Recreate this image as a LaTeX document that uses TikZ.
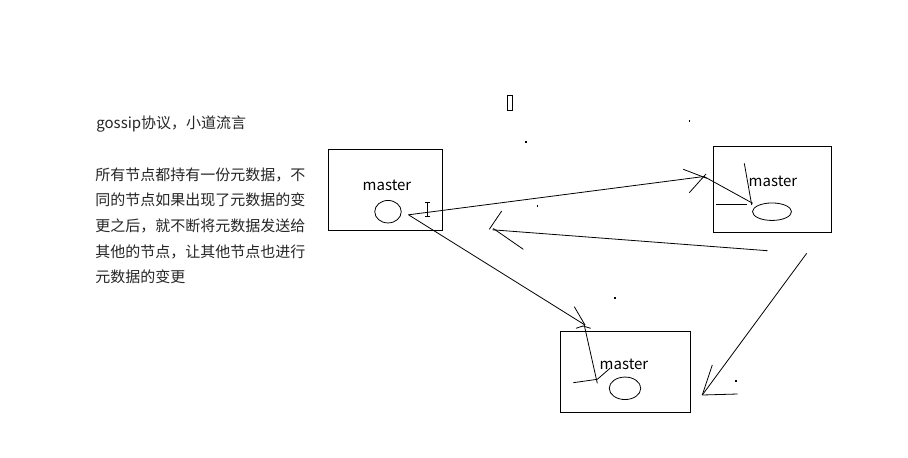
\documentclass[tikz,border=0pt]{standalone}
\usepackage{fontspec}
\setmainfont{Noto Sans CJK SC}
\usetikzlibrary{shapes.geometric}
\begin{document}
\begin{tikzpicture}[x=1pt,y=-1pt,line width=0.8pt]
\useasboundingbox[fill=white] (0,0) rectangle (908,458);
\tikzset{
  box/.style={draw, anchor=north west, inner sep=0pt},
  oval/.style={draw, ellipse, inner sep=0pt},
  lbl/.style={anchor=base, inner sep=0pt, font=\fontsize{15pt}{15pt}\selectfont},
  txt/.style={anchor=base west, inner sep=0pt, text=black!85, font=\fontsize{15pt}{15pt}\selectfont},
  speck/.style={fill=black, minimum size=1.6pt, inner sep=0pt}
}
% left text
\node[txt] (t0) at (96,128.4) {gossip协议，小道流言};
\node[txt] (t1) at (95,180.7) {所有节点都持有一份元数据，不};
\node[txt] (t2) at (95,205.9) {同的节点如果出现了元数据的变};
\node[txt] (t3) at (95,231.6) {更之后，就不断将元数据发送给};
\node[txt] (t4) at (95,257.0) {其他的节点，让其他节点也进行};
\node[txt] (t5) at (95,282.2) {元数据的变更};

% boxes
\node[box, minimum width=114pt, minimum height=81pt] (b1) at (328,149) {};
\node[box, minimum width=118pt, minimum height=86pt] (b2) at (713,145.5) {};
\node[box, minimum width=130pt, minimum height=81pt] (b3) at (559.5,331) {};

% labels
\node[lbl] (m1) at (387,190) {master};
\node[lbl] (m2) at (773,186.7) {master};
\node[lbl] (m3) at (624,369) {master};

% ovals
\node[oval, minimum width=26.5pt, minimum height=22.5pt] (e1) at (388,211.7) {};
\node[oval, minimum width=39pt, minimum height=17.5pt] (e2) at (772,211.7) {};
\node[oval, minimum width=31.5pt, minimum height=22.5pt] (e3) at (625,388.3) {};

% free ends
\coordinate (s1) at (408.5,214.8);
\coordinate (a1) at (704,176.5);
\coordinate (a3) at (585,325);
\coordinate (r0) at (767.5,250.7);
\coordinate (r1) at (492.5,229.8);
\coordinate (d0) at (806.7,253.3);
\coordinate (d1) at (702.3,395);

% arrow 1 : box1 -> box2
\draw (s1) -- (a1);
\draw (683.3,169.3) -- (706.7,178.3);
\draw (689.3,192.7) -- (706,174);
\draw (a1) -- (752.7,203.3);
\draw (744.3,163.3) -- (751.7,205);
\draw (716,204) -- (746.7,204);

% arrow 2 : box2 -> box1
\draw (r0) -- (r1);
\draw (501.7,211) -- (489.3,229.3);
\draw (493.3,228.5) -- (523.3,249.3);

% arrow 3 : box1 -> box3
\draw (s1) -- (a3);
\draw (574.3,306.7) -- (a3);
\draw (576,328.3) -- (583,326) -- (590.7,328.3);
\draw (584,324) -- (597.3,383.3);
\draw (573.3,382.7) -- (597.3,379.3) -- (610,368.3);

% arrow 4 : box2 -> box3 region
\draw (d0) -- (d1);
\draw (712.3,365) -- (d1);
\draw (d1) -- (737.7,394);

% cursor and glyph box
\draw[line width=0.7pt] (427.7,202) -- (427.7,216.5);
\draw[line width=0.7pt] (425.3,202) -- (430.1,202);
\draw[line width=0.7pt] (425.3,216.5) -- (430.1,216.5);
\draw[line width=0.7pt] (507,95.5) rectangle (512.5,110.5);

% specks
\node[speck] (p1) at (689.3,120.7) {};
\node[speck] (p2) at (526,141.7) {};
\node[speck] (p3) at (537.3,206) {};
\node[speck] (p4) at (615,298) {};
\node[speck] (p5) at (736,381) {};
\end{tikzpicture}
\end{document}
